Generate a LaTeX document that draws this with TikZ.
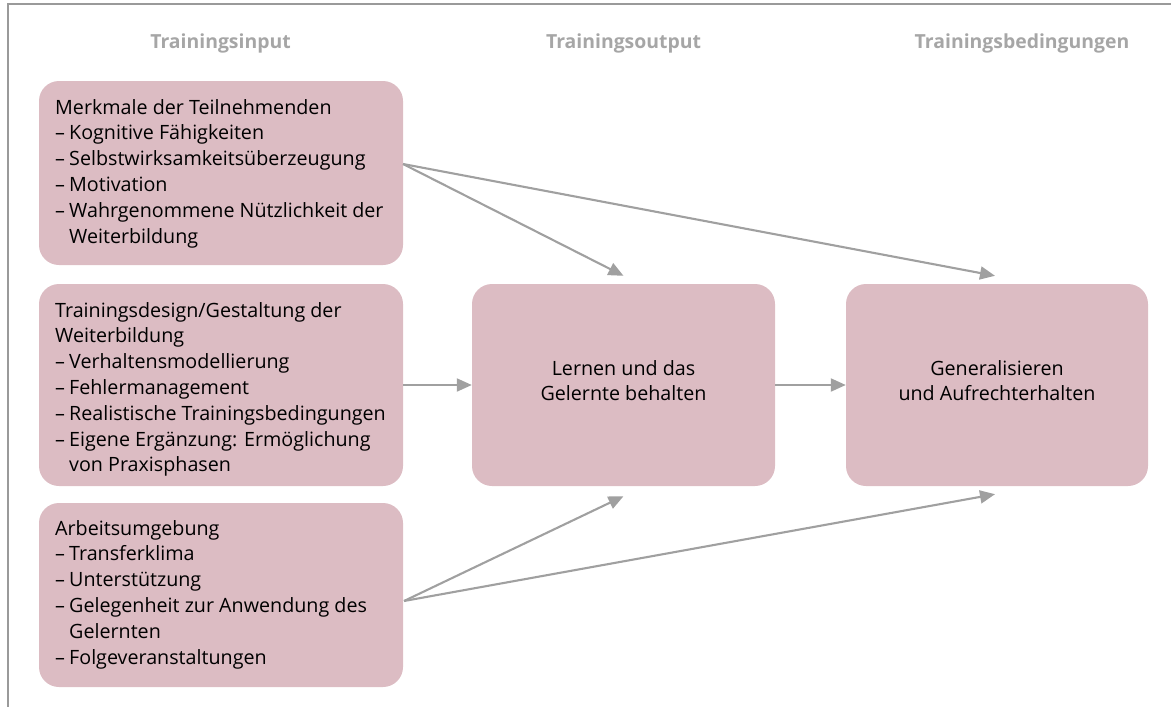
\documentclass[tikz,border=0pt]{standalone}
\usepackage{fontspec}
\setmainfont{Open Sans}
\usetikzlibrary{arrows.meta,calc}
\definecolor{boxfill}{HTML}{DCBCC3}
\definecolor{arrgray}{HTML}{A0A0A0}
\definecolor{framegray}{HTML}{9A9A9A}
\definecolor{headgray}{HTML}{A6A6A6}
\newcommand{\itm}{\makebox[14pt][l]{–}}
\newcommand{\cnt}{\hspace*{14pt}}
\newcommand{\bodyfont}{\fontsize{19.7}{25.8}\selectfont}
\tikzset{
  box/.style={fill=boxfill, draw=none, rounded corners=20pt, inner sep=0pt, minimum height=184pt},
  lbl/.style={inner sep=0pt, anchor=base west, text=black},
  ctr/.style={inner sep=0pt, anchor=base, text=black},
  head/.style={inner sep=0pt, anchor=base, text=headgray, font=\fontsize{19.4}{22}\selectfont\bfseries},
  arr/.style={draw=arrgray, line width=2.1pt, -{Triangle[length=15pt,width=13pt]}},
  framel/.style={draw=framegray, line width=1.4pt}
}
\begin{document}
\begin{tikzpicture}[x=1pt,y=-1pt]
\useasboundingbox (0,0) rectangle (1171,707);
\draw[framel] (8,707) -- (8,4) -- (1171,4);

\node[head] (h1) at (220.5,48) {Trainingsinput};
\node[head] (h2) at (623.5,48) {Trainingsoutput};
\node[head] (h3) at (1022,48) {Trainingsbedingungen};

\node[box, minimum width=364pt, minimum height=184pt] (b1) at (221,173) {};
\node[box, minimum width=364pt, minimum height=202pt] (b2) at (221,385) {};
\node[box, minimum width=364pt, minimum height=184pt] (b3) at (221,595) {};
\node[box, minimum width=303pt, minimum height=202pt] (mid) at (623.5,385) {};
\node[box, minimum width=302pt, minimum height=202pt] (right) at (997,385) {};

\node[lbl] (t1) at (55,114) {\parbox[t]{345pt}{\bodyfont
Merkmale der Teilnehmenden\\
\itm Kognitive Fähigkeiten\\
\itm Selbstwirksamkeitsüberzeugung\\
\itm Motivation\\
\itm Wahrgenommene Nützlichkeit der\\
\cnt Weiterbildung}};

\node[lbl] (t2) at (55,317) {\parbox[t]{345pt}{\bodyfont
Trainingsdesign/Gestaltung der\\
Weiterbildung\\
\itm Verhaltensmodellierung\\
\itm Fehlermanagement\\
\itm Realistische Trainingsbedingungen\\
\itm Eigene Ergänzung: Ermöglichung\\
\cnt von Praxisphasen}};

\node[lbl] (t3) at (55,535) {\parbox[t]{345pt}{\bodyfont
Arbeitsumgebung\\
\itm Transferklima\\
\itm Unterstützung\\
\itm Gelegenheit zur Anwendung des\\
\cnt Gelernten\\
\itm Folgeveranstaltungen}};

\node[ctr] (tm) at (623.5,375) {\parbox[t]{280pt}{\centering\bodyfont
Lernen und das\\
Gelernte behalten}};
\node[ctr] (tr) at (997,375) {\parbox[t]{280pt}{\centering\bodyfont
Generalisieren\\
und Aufrechterhalten}};

\coordinate (s1) at (403,164);
\coordinate (s3) at (404,601);
\draw[arr] (s1) -- ([yshift=8pt]mid.north);
\draw[arr] (s1) -- ([xshift=-2pt,yshift=8pt]right.north);
\draw[arr] (b2.east) -- (mid.west);
\draw[arr] (mid.east) -- (right.west);
\draw[arr] (s3) -- ([yshift=-10pt]mid.south);
\draw[arr] (s3) -- ([xshift=-2pt,yshift=-8pt]right.south);
\end{tikzpicture}
\end{document}
